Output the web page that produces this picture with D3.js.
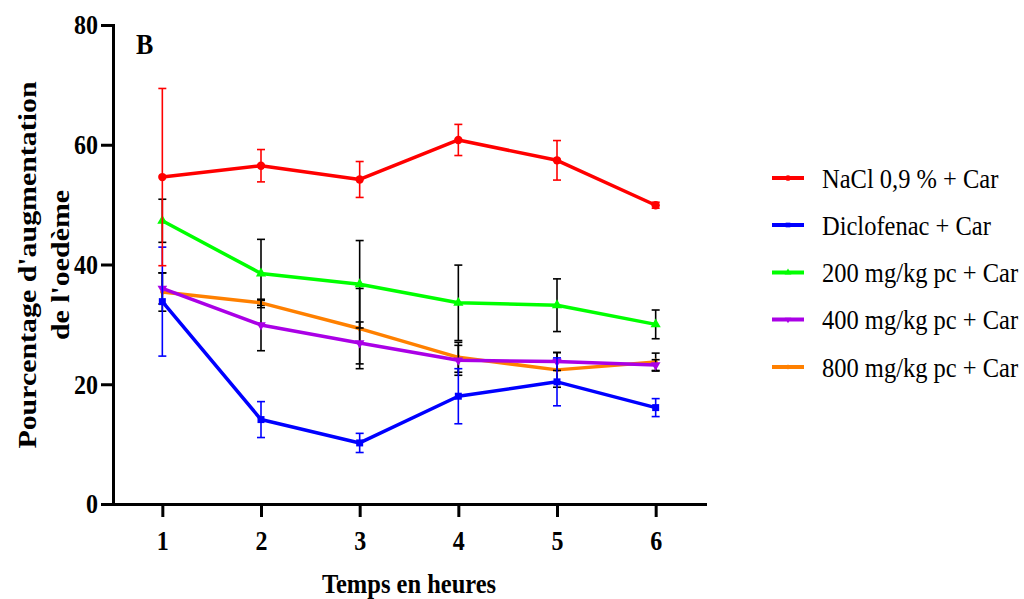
<!DOCTYPE html>
<html>
<head>
<meta charset="utf-8">
<script src="https://cdn.jsdelivr.net/npm/d3@7"></script>
<style>
  body { margin: 0; background: #fff; }
  text { font-family: "Liberation Serif", "Times New Roman", serif; }
</style>
</head>
<body>
<svg id="plot" width="1024" height="599"></svg>
<script>
// data (mean and SEM, % increase of oedema)
const hours = [1, 2, 3, 4, 5, 6];
const yTicks = [0, 20, 40, 60, 80];

const nacl = [54.6, 56.5, 54.2, 60.8, 57.4, 49.9];
const naclErr = [14.8, 2.7, 3.0, 2.6, 3.3, 0.5];
const diclo = [33.8, 14.1, 10.2, 18.0, 20.4, 16.1];
const dicloErr = [9.1, 3.0, 1.6, 4.6, 4.0, 1.5];
const dose200 = [47.3, 38.5, 36.7, 33.6, 33.2, 30.0];
const dose200Err = [3.6, 5.7, 7.3, 6.3, 4.4, 2.4];
const dose400 = [36.0, 29.9, 26.9, 24.0, 23.8, 23.2];
const dose400Err = [2.6, 4.3, 3.5, 2.5, 1.5, 0.9];
const dose800 = [35.4, 33.6, 29.3, 24.5, 22.4, 23.7];
const dose800Err = [3.2, 0.4, 6.7, 2.5, 2.9, 1.5];

const seriesNames = ["NaCl 0,9 % + Car", "Diclofenac + Car", "200 mg/kg pc + Car", "400 mg/kg pc + Car", "800 mg/kg pc + Car"];

const series = [
  {name: seriesNames[0], vals: nacl, err: naclErr, color: "#ff0000", errColor: "#ff0000", sym: d3.symbolCircle, size: 55, rot: 0},
  {name: seriesNames[1], vals: diclo, err: dicloErr, color: "#0000ff", errColor: "#0000ff", sym: d3.symbolSquare, size: 49, rot: 0},
  {name: seriesNames[2], vals: dose200, err: dose200Err, color: "#00ff00", errColor: "#000", sym: d3.symbolTriangle, size: 45, rot: 0},
  {name: seriesNames[3], vals: dose400, err: dose400Err, color: "#aa00e6", errColor: "#000", sym: d3.symbolTriangle, size: 40, rot: 180},
  {name: seriesNames[4], vals: dose800, err: dose800Err, color: "#ff8000", errColor: "#000", sym: d3.symbolDiamond, size: 20, rot: 0}
];

const svg = d3.select("#plot");
const SY = 1.15; // the figure text is a bit taller than wide

const x = d3.scaleLinear().domain([0.5, 6.5]).range([113, 705]);
const y = d3.scaleLinear().domain([0, 80]).range([504, 25]);

// axes
const yAxis = d3.axisLeft(y).tickValues(yTicks).tickSize(12).tickSizeOuter(0).tickPadding(3);
const gy = svg.append("g").attr("transform", "translate(" + x(0.5) + ",0)").call(yAxis);
gy.select(".domain").attr("stroke-width", 3).attr("stroke-linecap", "square");
gy.selectAll(".tick line").attr("stroke-width", 3);
gy.selectAll(".tick text")
  .style("font-size", "24px").style("font-weight", "bold").attr("fill", "#000")
  .attr("transform", "scale(1," + SY + ")");

const xAxis = d3.axisBottom(x).tickValues(hours).tickSize(13).tickSizeOuter(0).tickFormat(d3.format("d"));
const gx = svg.append("g").attr("transform", "translate(0," + y(0) + ")").call(xAxis);
gx.select(".domain").attr("stroke-width", 3).attr("stroke-linecap", "square");
gx.selectAll(".tick line").attr("stroke-width", 3);
gx.selectAll(".tick text")
  .style("font-size", "24px").style("font-weight", "bold").attr("fill", "#000")
  .attr("y", 40).attr("dy", 0)
  .attr("transform", "scale(1," + SY + ")");

function addText(txt, tx, ty, size, anchor, rotate) {
  return svg.append("text")
    .attr("transform", "translate(" + tx + "," + ty + ") scale(1," + SY + ")" + (rotate ? " rotate(" + rotate + ")" : ""))
    .attr("text-anchor", anchor)
    .style("font-size", size + "px")
    .text(txt);
}

addText("Temps en heures", (x(0.5) + x(6.5)) / 2, 593, 24.5, "middle").style("font-weight", "bold");
addText("Pourcentage d'augmentation", 36, 265, 26, "middle", -90).style("font-weight", "bold");
addText("de l'oedème", 69, 265, 26, "middle", -90).style("font-weight", "bold");
addText("B", 136, 54, 26, "start").style("font-weight", "bold");

// plot, last data set at the back
const line = d3.line().x((d, i) => x(hours[i])).y(d => y(d));

series.slice().reverse().forEach(s => {
  const g = svg.append("g");
  const eb = g.selectAll(".eb").data(s.vals).enter().append("g").attr("class", "eb")
    .attr("stroke", s.errColor).attr("stroke-width", 1.6);
  eb.append("line")
    .attr("x1", (d, i) => x(hours[i])).attr("x2", (d, i) => x(hours[i]))
    .attr("y1", (d, i) => y(d + s.err[i])).attr("y2", (d, i) => y(d - s.err[i]));
  eb.append("line")
    .attr("x1", (d, i) => x(hours[i]) - 4).attr("x2", (d, i) => x(hours[i]) + 4)
    .attr("y1", (d, i) => y(d + s.err[i])).attr("y2", (d, i) => y(d + s.err[i]));
  eb.append("line")
    .attr("x1", (d, i) => x(hours[i]) - 4).attr("x2", (d, i) => x(hours[i]) + 4)
    .attr("y1", (d, i) => y(d - s.err[i])).attr("y2", (d, i) => y(d - s.err[i]));

  g.append("path").datum(s.vals)
    .attr("d", line).attr("fill", "none")
    .attr("stroke", s.color).attr("stroke-width", 3.5).attr("stroke-linejoin", "round");

  g.selectAll(".pt").data(s.vals).enter().append("path").attr("class", "pt")
    .attr("d", d3.symbol().type(s.sym).size(s.size))
    .attr("transform", (d, i) => "translate(" + x(hours[i]) + "," + y(d) + ") rotate(" + s.rot + ")")
    .attr("fill", s.color);
});

// legend
const legY = [178, 225, 272.5, 319.5, 367];
const leg = svg.selectAll(".leg").data(series).enter().append("g").attr("class", "leg")
  .attr("transform", (d, i) => "translate(772," + legY[i] + ")");
leg.append("line").attr("x1", 0).attr("x2", 32)
  .attr("stroke", d => d.color).attr("stroke-width", 4);
leg.append("path")
  .attr("d", d => d3.symbol().type(d.sym).size(d.size * 0.45)())
  .attr("transform", d => "translate(16,0) rotate(" + d.rot + ")")
  .attr("fill", d => d.color);
leg.append("text")
  .attr("x", 50).attr("y", 0)
  .attr("transform", "scale(1," + SY + ")")
  .attr("dy", "0.35em")
  .style("font-size", "24.5px")
  .text(d => d.name);
</script>
</body>
</html>
